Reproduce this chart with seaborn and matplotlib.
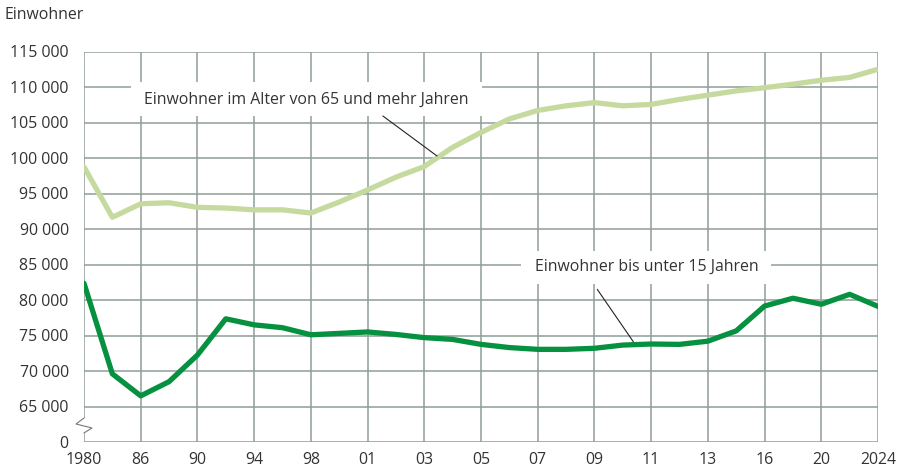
import numpy as np
import pandas as pd
import matplotlib
matplotlib.use("Agg")
import matplotlib.pyplot as plt
import seaborn as sns
from matplotlib.patches import Rectangle

# data (positions are equally spaced periods)
tick_labels = ["1980", "86", "90", "94", "98", "01", "03", "05", "07", "09",
               "11", "13", "16", "20", "2024"]
senioren = [98750, 91650, 93550, 93700, 93050, 92950, 92700, 92700, 92250,
            93800, 95500, 97300, 98800, 101500, 103600, 105500, 106700,
            107350, 107800, 107350, 107550, 108250, 108850, 109450, 109900,
            110400, 110950, 111350, 112500]
kinder = [82350, 69600, 66500, 68500, 72250, 77350, 76500, 76100, 75100,
          75300, 75500, 75150, 74700, 74450, 73750, 73300, 73050, 73050,
          73200, 73650, 73800, 73750, 74200, 75650, 79150, 80250, 79400,
          80800, 79100]
y_ticks = [60000, 65000, 70000, 75000, 80000, 85000, 90000, 95000, 100000,
           105000, 110000, 115000]

n = len(senioren)
pos = np.arange(n)
df = pd.DataFrame({
    "pos": np.concatenate([pos, pos]),
    "wert": senioren + kinder,
    "reihe": ["65+"] * n + ["u15"] * n,
})

sns.set_style("white")
plt.rcParams["font.family"] = ["Open Sans", "DejaVu Sans"]
text_col = "#333333"
grid_col = "#8f9e98"
fs = 11.4

fig = plt.figure(figsize=(9.03, 4.72), dpi=100)
ax = fig.add_axes([84 / 903, 1 - 442 / 472, 794 / 903, 390.5 / 472])

sns.lineplot(data=df, x="pos", y="wert", hue="reihe",
             palette={"65+": "#c6da9f", "u15": "#05913f"},
             linewidth=3.8, legend=False, ax=ax, zorder=3)

ax.set_xlim(0, n - 1)
ax.set_ylim(60000, 115000)
ax.set_xticks(pos[::2])
ax.set_xticklabels(tick_labels)
ax.set_xticks(pos[1::2], minor=True)
ax.set_yticks(y_ticks)
ax.set_yticklabels(["0" if v == 60000 else f"{v:,}".replace(",", " ")
                    for v in y_ticks])
ax.set_xlabel("")
ax.set_ylabel("")

ax.set_axisbelow(True)
ax.grid(True, which="major", color=grid_col, linewidth=1.1)
for s in ax.spines.values():
    s.set_visible(False)
ax.tick_params(axis="both", which="both", length=3.5, width=1.0,
               color=grid_col, labelsize=fs, labelcolor=text_col)
ax.tick_params(axis="y", pad=7.5)
ax.tick_params(axis="x", pad=4)

# label boxes and leader lines
ax.add_patch(Rectangle((1.657, 105915), 12.38, 4789, facecolor="white",
                       edgecolor="none", zorder=2))
ax.text(2.10, 108170, "Einwohner im Alter von 65 und mehr Jahren",
        fontsize=fs, color=text_col, va="center", ha="left", zorder=4)
ax.plot([10.54, 12.45], [105915, 100280], color="#222222", lw=0.8, zorder=4)

ax.add_patch(Rectangle((15.41, 82254), 8.82, 4647, facecolor="white",
                       edgecolor="none", zorder=2))
ax.text(15.92, 84650, "Einwohner bis unter 15 Jahren",
        fontsize=fs, color=text_col, va="center", ha="left", zorder=4)
ax.plot([18.10, 19.37], [81500, 74130], color="#222222", lw=0.8, zorder=4)

# axis break on the left
ax.add_patch(Rectangle((-0.1, 61268), 0.2, 2112, facecolor="white",
                       edgecolor="none", zorder=2.5, clip_on=False))
ax.plot([0, -0.28, 0.28, 0], [63380, 62535, 61972, 61268], color="#777777",
        lw=0.8, zorder=4, clip_on=False)

fig.text(5 / 903, 1 - 15 / 472, "Einwohner", fontsize=fs, color=text_col,
         va="center", ha="left")

fig.savefig("out.png", dpi=100)
